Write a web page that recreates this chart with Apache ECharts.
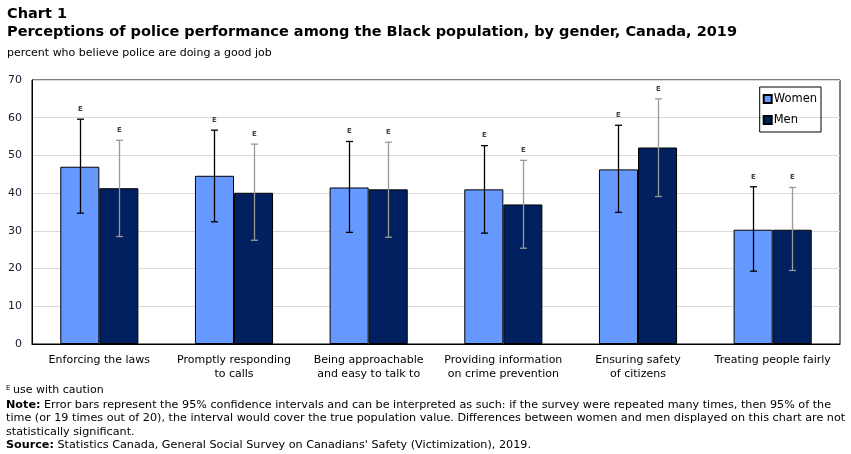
<!DOCTYPE html>
<html>
<head>
<meta charset="utf-8">
<script src="https://cdn.jsdelivr.net/npm/echarts@6/dist/echarts.min.js"></script>
<style>
  html, body { margin: 0; padding: 0; background: #fff; }
  #chart { width: 851px; height: 454px; }
</style>
</head>
<body>
<div id="chart"></div>
<script>
// 数据
var categories = ['Enforcing the laws', 'Promptly responding\nto calls', 'Being approachable\nand easy to talk to',
                  'Providing information\non crime prevention', 'Ensuring safety\nof citizens', 'Treating people fairly'];
var women    = [47.0, 44.6, 41.5, 41.0, 46.3, 30.3];
var womenLow = [34.7, 32.4, 29.6, 29.4, 34.9, 19.3];
var womenHigh= [59.6, 56.7, 53.7, 52.6, 58.0, 41.7];
var men      = [41.3, 40.1, 41.0, 37.0, 52.1, 30.3];
var menLow   = [28.5, 27.5, 28.3, 25.4, 39.1, 19.5];
var menHigh  = [54.0, 53.0, 53.5, 48.7, 65.0, 41.5];
var yTicks   = [0, 10, 20, 30, 40, 50, 60, 70];

var FONT = "'DejaVu Sans', sans-serif";
var BAR_W = 0.29;

function errData(lo, hi) {
    var out = [];
    for (var i = 0; i < lo.length; i++) out.push([i, lo[i], hi[i]]);
    return out;
}

// 误差线（含 E 标记）
function errRender(sign, color) {
    return function (params, api) {
        var i = api.value(0);
        var lo = api.coord([i, api.value(1)]);
        var hi = api.coord([i, api.value(2)]);
        var band = api.size([1, 0])[0];
        var x = Math.round(lo[0] + sign * band * BAR_W / 2) + 0.5;
        var st = { stroke: color, lineWidth: 1.3 };
        return {
            type: 'group',
            children: [
                { type: 'line', shape: { x1: x, y1: hi[1], x2: x, y2: lo[1] }, style: st },
                { type: 'line', shape: { x1: x - 3.5, y1: hi[1], x2: x + 3.5, y2: hi[1] }, style: st },
                { type: 'line', shape: { x1: x - 3.5, y1: lo[1], x2: x + 3.5, y2: lo[1] }, style: st },
                { type: 'text', x: x, y: hi[1] - 10,
                  style: { text: 'E', fill: '#444', font: 'bold 7px ' + FONT, align: 'center', verticalAlign: 'middle' } }
            ]
        };
    };
}

var chart = echarts.init(document.getElementById('chart'), null, { renderer: 'canvas' });
var option = {
    backgroundColor: '#fff',
    animation: false,
    textStyle: { fontFamily: FONT },
    title: [
        { text: 'Chart 1', left: 7, top: 7, padding: 0, textStyle: { fontSize: 14.5, fontWeight: 'bold', color: '#000', fontFamily: FONT } },
        { text: 'Perceptions of police performance among the Black population, by gender, Canada, 2019',
          left: 7, top: 25, padding: 0, textStyle: { fontSize: 14.5, fontWeight: 'bold', color: '#000', fontFamily: FONT } },
        { text: 'percent who believe police are doing a good job',
          left: 7, top: 48, padding: 0, textStyle: { fontSize: 11, fontWeight: 'normal', color: '#000', fontFamily: FONT } }
    ],
    legend: {
        data: ['Women', 'Men'],
        orient: 'vertical',
        right: 30, top: 87,
        padding: [6, 4, 6, 3],
        itemGap: 9,
        itemWidth: 8, itemHeight: 8,
        borderColor: '#000', borderWidth: 1,
        icon: 'rect',
        textStyle: { fontSize: 11.5, color: '#000', fontFamily: FONT, padding: [0, 0, 0, -3] }
    },
    grid: {
        left: 32, right: 11, top: 80, bottom: 110,
        show: true, borderColor: '#000', borderWidth: 1
    },
    xAxis: {
        type: 'category',
        data: categories,
        axisLine: { lineStyle: { color: '#000' } },
        axisTick: { show: false },
        axisLabel: { color: '#000', fontSize: 11, lineHeight: 14, margin: 9, interval: 0, fontFamily: FONT }
    },
    yAxis: {
        type: 'value',
        min: 0, max: 70, interval: 10,
        axisLine: { show: true, lineStyle: { color: '#000' } },
        axisTick: { show: false },
        axisLabel: { color: '#1a1a33', fontSize: 11, margin: 10, fontFamily: FONT },
        splitLine: { lineStyle: { color: '#d9d9d9' } }
    },
    series: [
        { name: 'Women', type: 'bar', data: women, barWidth: '29%', barGap: '0%',
          itemStyle: { color: '#6699ff', borderColor: '#000', borderWidth: 1 } },
        { name: 'Men', type: 'bar', data: men, barWidth: '29%', barGap: '0%',
          itemStyle: { color: '#002060', borderColor: '#000', borderWidth: 1 } },
        { type: 'custom', name: 'womenErr', data: errData(womenLow, womenHigh), clip: false, z: 5,
          encode: { x: 0, y: [1, 2] }, renderItem: errRender(-1, '#000') },
        { type: 'custom', name: 'menErr', data: errData(menLow, menHigh), clip: false, z: 5,
          encode: { x: 0, y: [1, 2] }, renderItem: errRender(1, '#999') }
    ],
    graphic: [
        { type: 'text', left: 6, top: 385, style: { text: 'E', fill: '#000', font: '7px ' + FONT } },
        { type: 'text', left: 13, top: 385, style: { text: 'use with caution', fill: '#000', font: '11px ' + FONT } },
        { type: 'text', left: 6, top: 398, style: {
            text: '{b|Note:} Error bars represent the 95% confidence intervals and can be interpreted as such: if the survey were repeated many times, then 95% of the\n' +
                  'time (or 19 times out of 20), the interval would cover the true population value. Differences between women and men displayed on this chart are not\n' +
                  'statistically significant.\n' +
                  '{b|Source:} Statistics Canada, General Social Survey on Canadians\' Safety (Victimization), 2019.',
            fill: '#000', font: '11.2px ' + FONT, lineHeight: 13.5,
            rich: { b: { fontWeight: 'bold', fontSize: 11.2, fontFamily: FONT, lineHeight: 13.5 } }
        } }
    ]
};
chart.setOption(option);
</script>
</body>
</html>
